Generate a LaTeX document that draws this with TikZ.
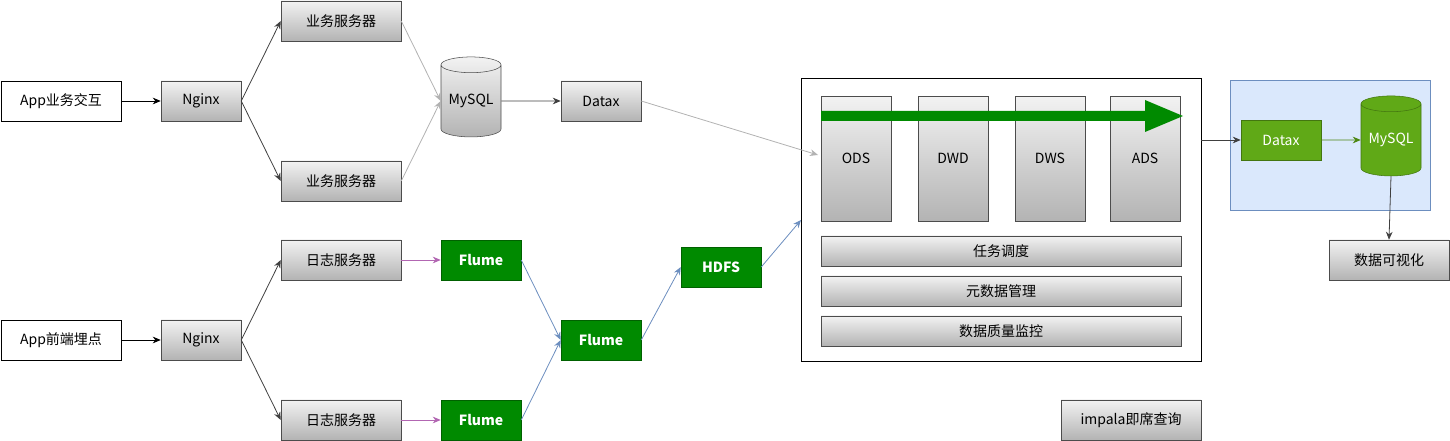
\documentclass[tikz,border=0pt]{standalone}
\usepackage{fontspec}
\setmainfont{Noto Sans CJK SC}
\usetikzlibrary{shapes.geometric,arrows.meta}
\definecolor{gb}{HTML}{B3B3B3}
\definecolor{dg}{HTML}{008A00}
\definecolor{lg}{HTML}{60A917}
\begin{document}
\begin{tikzpicture}[x=0.75pt,y=-0.75pt,font=\fontsize{10.5}{12}\selectfont,
 box/.style={draw=black,fill=white,minimum width=90pt,minimum height=30pt,inner sep=0},
 gr/.style={draw=black!70,top color=white!95!black,bottom color=gb,inner sep=0},
 gbox/.style={draw=black!70,top color=white!95!black,bottom color=gb,minimum width=90pt,minimum height=30pt,inner sep=0},
 sbox/.style={gbox,minimum width=60pt},
 fl/.style={draw=dg!70!black,fill=dg,text=white,font=\fontsize{10.5}{12}\selectfont\bfseries,minimum width=60pt,minimum height=30pt,inner sep=0},
 cyl/.style={cylinder,shape border rotate=90,aspect=0.35,minimum width=45pt,minimum height=60pt,inner sep=0},
 a/.style={-{Stealth[length=6pt,width=5pt]},line width=0.6pt},
 dk/.style={a,draw=black!75},
 lt/.style={a,draw=black!30},
 pu/.style={a,draw=violet!60},
 bl/.style={a,draw={rgb,255:red,108;green,142;blue,191}}]
\useasboundingbox (0,0) rectangle (1450,441);
\node[box] (app1) at (61,101) {App业务交互};
\node[sbox] (ng1) at (201,101) {Nginx};
\node[gbox] (s1) at (341,21) {业务服务器};
\node[gbox] (s2) at (341,181) {业务服务器};
\node[cyl,gr] (my1) at (471,101) {MySQL};
\node[sbox] (dx1) at (601,101) {Datax};
\node[draw=black,fill=white,minimum width=300pt,minimum height=212.25pt,inner sep=0] (big) at (1001,219.5) {};
\foreach \n/\x in {ODS/856,DWD/953,DWS/1050,ADS/1145}
  \node[gr,minimum width=52.5pt,minimum height=93.75pt,anchor=north] (\n) at (\x,96) {};
\foreach \n/\x in {ODS/856,DWD/953,DWS/1050,ADS/1145}
  \node at (\x,158) {\n};
\fill[dg] (821,111) -- (1145,111) -- (1145,100) -- (1183,116) -- (1145,132) -- (1145,121) -- (821,121) -- cycle;
\node[gr,minimum width=270pt,minimum height=22.5pt] (t1) at (1001,251) {任务调度};
\node[gr,minimum width=270pt,minimum height=22.5pt] (t2) at (1001,291) {元数据管理};
\node[gr,minimum width=270pt,minimum height=22.5pt] (t3) at (1001,331) {数据质量监控};
\node[draw={rgb,255:red,108;green,142;blue,191},fill={rgb,255:red,218;green,232;blue,252},minimum width=150pt,minimum height=97.5pt,inner sep=0] (blue) at (1330,145) {};
\node[fill=lg,draw=lg!70!black,text=white,minimum width=60pt,minimum height=30pt,inner sep=0] (dx2) at (1281,140) {Datax};
\node[cyl,fill=lg,draw=lg!70!black,text=white] (my2) at (1391,140) {MySQL};
\node[gbox] (vis) at (1389,260) {数据可视化};
\node[gbox] (r1) at (341,260) {日志服务器};
\node[gbox] (r2) at (341,420) {日志服务器};
\node[fl] (f1) at (481,260) {Flume};
\node[fl] (f2) at (481,420) {Flume};
\node[fl] (f3) at (601,340) {Flume};
\node[fl] (hd) at (721,267) {HDFS};
\node[box] (app2) at (61,340) {App前端埋点};
\node[sbox] (ng2) at (201,340) {Nginx};
\node[gbox,minimum width=105pt] (imp) at (1131,420) {impala即席查询};
\coordinate (e1) at (818,155);
\coordinate (e2) at (801,220);
\draw[dk,draw=black] (app1) -- (ng1);
\draw[dk] (ng1.east) -- (s1.west);
\draw[dk] (ng1.east) -- (s2.west);
\draw[lt] (s1.east) -- (my1.west);
\draw[lt] (s2.east) -- (my1.west);
\draw[dk] (my1) -- (dx1);
\draw[lt] (dx1.east) -- (e1);
\draw[dk,draw=black] (app2) -- (ng2);
\draw[dk] (ng2.east) -- (r1.west);
\draw[dk] (ng2.east) -- (r2.west);
\draw[pu] (r1) -- (f1);
\draw[pu] (r2) -- (f2);
\draw[bl] (f1.east) -- (f3.west);
\draw[bl] (f2.east) -- (f3.west);
\draw[bl] (f3.east) -- (hd.west);
\draw[bl] (hd.east) -- (e2);
\draw[dk] (1201,140) -- (dx2);
\draw[a,draw=lg!80!black] (dx2) -- (my2);
\draw[dk] (my2.south) -- (vis.north);
\end{tikzpicture}
\end{document}
